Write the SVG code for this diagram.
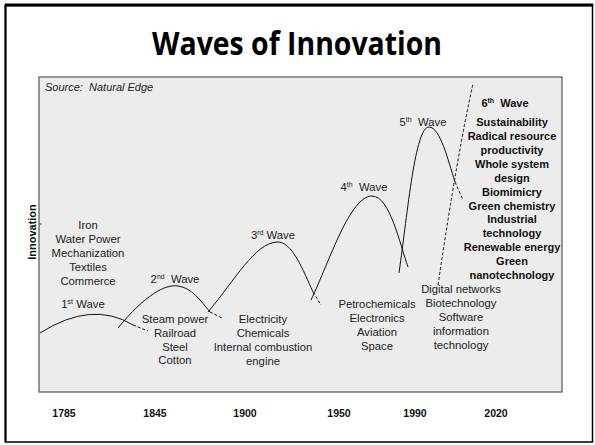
<svg xmlns="http://www.w3.org/2000/svg" width="595" height="445" viewBox="0 0 595 445">
<style>
.t{font-family:"Liberation Sans",Arial,sans-serif;font-size:11.3px;fill:#222;text-anchor:middle}
.b{font-family:"Liberation Sans",Arial,sans-serif;font-size:11px;font-weight:bold;fill:#111;text-anchor:middle}
.yr{font-family:"Liberation Sans",Arial,sans-serif;font-size:10.5px;font-weight:bold;fill:#111;text-anchor:middle}
.sup{font-size:7px}
.w{fill:none;stroke:#111;stroke-width:1}
.d{fill:none;stroke:#111;stroke-width:1;stroke-dasharray:3 2}
</style>
<rect x="0" y="0" width="595" height="445" fill="#fff"/>
<g id="frame">
<rect x="5.5" y="5.5" width="587" height="436.5" fill="none" stroke="#000" stroke-width="1.5"/>
<line x1="4.75" y1="5" x2="593.25" y2="5" stroke="#000" stroke-width="3"/>
<line x1="5.5" y1="5" x2="5.5" y2="442" stroke="#000" stroke-width="2"/>
</g>
<text x="297" y="55" font-family="'Open Sans',sans-serif" font-size="32" font-weight="bold" text-anchor="middle" fill="#000" textLength="290" lengthAdjust="spacingAndGlyphs">Waves of Innovation</text>
<g id="chart">
<rect x="39" y="77" width="523" height="315" fill="#ececec" stroke="#555" stroke-width="1.2"/>
<line x1="39" y1="224" x2="42" y2="224" stroke="#555" stroke-width="1"/>
<text x="45" y="91" font-family="'Liberation Sans',Arial,sans-serif" font-size="11" font-style="italic" fill="#222" xml:space="preserve">Source:  Natural Edge</text>
<text class="b" transform="translate(36,232) rotate(-90)">Innovation</text>
</g>
<g id="connectors">
<path class="w" d="M40,333 Q92,300 133,325"/>
<path class="d" d="M133,325 L148,331"/>
<path class="w" d="M118,328 C145,295 165,284 178,286 C192,288 200,300 210,312"/>
<path class="d" d="M210,312 L222,318"/>
<path class="w" d="M208,312 C235,280 255,243 277,242 C292,241 303,270 313,292"/>
<path class="d" d="M313,292 L321,305"/>
<path class="w" d="M311,300 C330,260 350,196 372,196 C390,196 400,245 408,267"/>
<path class="w" d="M399,273 C408,210 415,127 429,127 C440,127 448,160 455,182"/>
<path class="d" d="M455,182 L463,200"/>
<path class="d" d="M438,285 Q458,150 473,84"/>
</g>
<g id="wave1">
<text class="t" x="88" y="229">Iron</text>
<text class="t" x="88" y="243">Water Power</text>
<text class="t" x="88" y="257">Mechanization</text>
<text class="t" x="88" y="271">Textiles</text>
<text class="t" x="88" y="285">Commerce</text>
<text class="t" x="83" y="308">1<tspan class="sup" dy="-4">st</tspan><tspan dy="4"> Wave</tspan></text>
</g>
<g id="wave2">
<text class="t" x="175" y="283" xml:space="preserve">2<tspan class="sup" dy="-4">nd</tspan><tspan dy="4">  Wave</tspan></text>
<text class="t" x="175" y="323">Steam power</text>
<text class="t" x="175" y="337">Railroad</text>
<text class="t" x="175" y="351">Steel</text>
<text class="t" x="175" y="364">Cotton</text>
</g>
<g id="wave3">
<text class="t" x="273" y="239">3<tspan class="sup" dy="-4">rd</tspan><tspan dy="4"> Wave</tspan></text>
<text class="t" x="263" y="323">Electricity</text>
<text class="t" x="263" y="337">Chemicals</text>
<text class="t" x="263" y="351">Internal combustion</text>
<text class="t" x="263" y="365">engine</text>
</g>
<g id="wave4">
<text class="t" x="364" y="191" xml:space="preserve">4<tspan class="sup" dy="-4">th</tspan><tspan dy="4">  Wave</tspan></text>
<text class="t" x="377" y="308">Petrochemicals</text>
<text class="t" x="377" y="322">Electronics</text>
<text class="t" x="377" y="336">Aviation</text>
<text class="t" x="377" y="350">Space</text>
</g>
<g id="wave5">
<text class="t" x="423" y="126" xml:space="preserve">5<tspan class="sup" dy="-4">th</tspan><tspan dy="4">  Wave</tspan></text>
<text class="t" x="461" y="293">Digital networks</text>
<text class="t" x="461" y="307">Biotechnology</text>
<text class="t" x="461" y="321">Software</text>
<text class="t" x="461" y="335">information</text>
<text class="t" x="461" y="349">technology</text>
</g>
<g id="wave6">
<text class="b" x="505" y="107" xml:space="preserve">6<tspan class="sup" dy="-4">th</tspan><tspan dy="4">  Wave</tspan></text>
<text class="b" x="512" y="126">Sustainability</text>
<text class="b" x="512" y="140">Radical resource</text>
<text class="b" x="512" y="154">productivity</text>
<text class="b" x="512" y="168">Whole system</text>
<text class="b" x="512" y="182">design</text>
<text class="b" x="512" y="196">Biomimicry</text>
<text class="b" x="512" y="210">Green chemistry</text>
<text class="b" x="512" y="223">Industrial</text>
<text class="b" x="512" y="237">technology</text>
<text class="b" x="512" y="251">Renewable energy</text>
<text class="b" x="512" y="265">Green</text>
<text class="b" x="512" y="279">nanotechnology</text>
</g>
<g id="years">
<text class="yr" x="64" y="417">1785</text>
<text class="yr" x="155" y="417">1845</text>
<text class="yr" x="245" y="417">1900</text>
<text class="yr" x="339" y="417">1950</text>
<text class="yr" x="415" y="417">1990</text>
<text class="yr" x="496" y="417">2020</text>
</g>
</svg>
